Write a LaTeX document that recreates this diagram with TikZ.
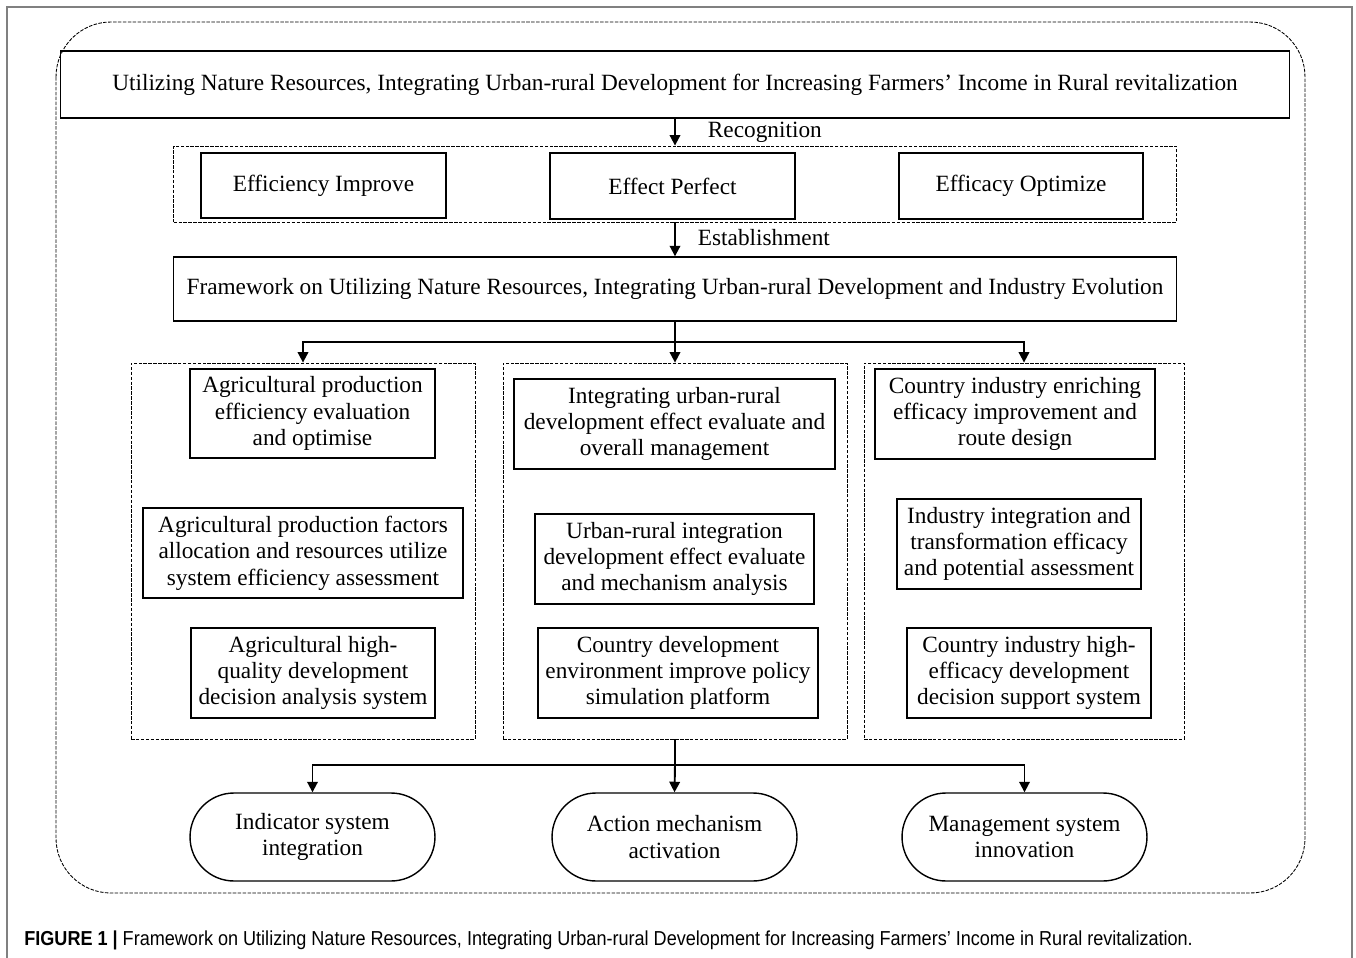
\documentclass[tikz,border=0pt]{standalone}
\usepackage{fontspec}
\setmainfont{Liberation Serif}
\newfontfamily\capfont[FakeStretch=0.894]{Liberation Sans}
\usetikzlibrary{arrows.meta}

\begin{document}
\begin{tikzpicture}[x=0.02cm, y=-0.02cm,
			box/.style={draw, line width=0.8pt, align=center, inner sep=2pt, font=\fontsize{13.25}{15}\selectfont},
			group/.style={draw, line width=0.5pt, dash pattern=on 2pt off 0.8pt},
			pill/.style={box, rounded corners=0.88cm},
			arr/.style={line width=1.1pt, -{Triangle[length=6pt, width=6pt]}},
			link/.style={line width=1.1pt},
			tag/.style={font=\fontsize{13.25}{15}\selectfont, inner sep=0pt, anchor=west}]

			\useasboundingbox (0,0) rectangle (1356,957);

			%frame
			\draw[gray, line width=0.6pt] (7,7) rectangle (1352,990);

			\draw[group, rounded corners=1.1cm] (56,22) rectangle (1305,893);

			%top
			\node[box, minimum width=24.58cm, minimum height=1.34cm] (title) at (675,84.5) {Utilizing Nature Resources, Integrating Urban-rural Development for Increasing Farmers’ Income in Rural revitalization};

			\node[group, minimum width=20.06cm, minimum height=1.52cm] (recog) at (675,184) {};

			\node[box, minimum width=4.9cm, minimum height=1.3cm] (improve) at (323.5,185.5) {Efficiency Improve};

			\node[box, minimum width=4.9cm, minimum height=1.32cm] (perfect) at (672.5,186) {Effect Perfect};

			\node[box, minimum width=4.88cm, minimum height=1.32cm] (optimize) at (1021,186) {Efficacy Optimize};

			\node[box, minimum width=20.06cm, minimum height=1.28cm] (frame) at (675,289) {Framework on Utilizing Nature Resources, Integrating Urban-rural Development and Industry Evolution};

			\draw[arr] (title) -- (recog) node[tag, midway, xshift=0.64cm] {Recognition};

			\draw[arr] (recog) -- (frame) node[tag, midway, xshift=0.44cm, yshift=0.04cm] {Establishment};

			%columns
			\node[group, minimum width=6.88cm, minimum height=7.52cm] (colA) at (303,551) {};

			\node[group, minimum width=6.88cm, minimum height=7.52cm] (colB) at (675,551) {};

			\node[group, minimum width=6.4cm, minimum height=7.52cm] (colC) at (1024,551) {};

			\coordinate (split1) at (675,342);

			\draw[link] (frame) -- (split1);

			\draw[arr] (split1) -| (colA.north);

			\draw[arr] (split1) -- (colB.north);

			\draw[arr] (split1) -| (colC.north);

			%left column
			\node[box, minimum width=4.9cm, minimum height=1.78cm] (agriA) at (312.5,413.5) {Agricultural production\\efficiency evaluation\\and optimise};

			\node[box, minimum width=6.4cm, minimum height=1.8cm] (agriB) at (303,553) {Agricultural production factors\\allocation and resources utilize\\system efficiency assessment};

			\node[box, minimum width=4.88cm, minimum height=1.8cm] (agriC) at (313,673) {Agricultural high-\\quality development\\decision analysis system};

			%middle column
			\node[box, minimum width=6.42cm, minimum height=1.8cm] (urbA) at (674.5,424) {Integrating urban-rural\\development effect evaluate and\\overall management};

			\node[box, minimum width=5.58cm, minimum height=1.8cm] (urbB) at (674.5,559) {Urban-rural integration\\development effect evaluate\\and mechanism analysis};

			\node[box, minimum width=5.6cm, minimum height=1.8cm] (urbC) at (678,673) {Country development\\environment improve policy\\simulation platform};

			%right column
			\node[box, minimum width=5.6cm, minimum height=1.8cm] (indA) at (1015,414) {Country industry enriching\\efficacy improvement and\\route design};

			\node[box, minimum width=4.88cm, minimum height=1.8cm] (indB) at (1019,544) {Industry integration and\\transformation efficacy\\and potential assessment};

			\node[box, minimum width=4.88cm, minimum height=1.8cm] (indC) at (1029,673) {Country industry high-\\efficacy development\\decision support system};

			%bottom
			\node[pill, minimum width=4.9cm, minimum height=1.76cm] (indicator) at (312.5,837) {Indicator system\\integration};

			\node[pill, minimum width=4.9cm, minimum height=1.76cm] (action) at (674.5,837) {Action mechanism\\activation};

			\node[pill, minimum width=4.9cm, minimum height=1.76cm] (manage) at (1024.5,837) {Management system\\innovation};

			\coordinate (split2) at (675,765);

			\draw[link] (colB) -- (split2);

			\draw[arr] (split2) -| (indicator.north);

			\draw[arr] (split2) -- (action.north);

			\draw[arr] (split2) -| (manage.north);

			%caption
			\node[anchor=base west, inner sep=0pt, font=\capfont\fontsize{11.5}{13}\selectfont] (caption) at (24,945) {\textbf{FIGURE 1 |} Framework on Utilizing Nature Resources, Integrating Urban-rural Development for Increasing Farmers’ Income in Rural revitalization.};
        \end{tikzpicture}
\end{document}
